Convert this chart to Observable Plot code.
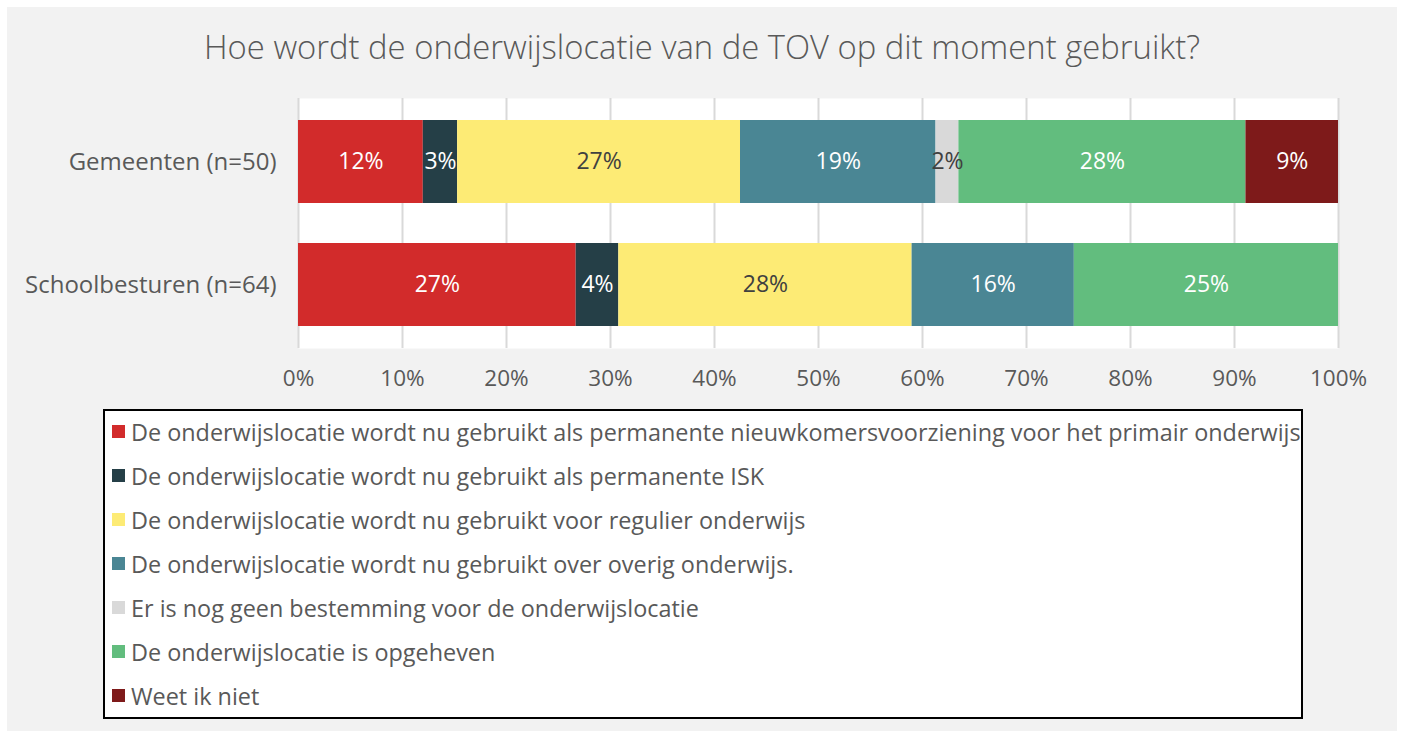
<!DOCTYPE html>
<html>
<head>
<meta charset="utf-8">
<script src="https://cdn.jsdelivr.net/npm/d3@7"></script>
<script src="https://cdn.jsdelivr.net/npm/@observablehq/plot@0.6"></script>
<style>
  html, body { margin: 0; padding: 0; background: #ffffff; }
  body { width: 1402px; height: 731px; position: relative; overflow: hidden; font-family: "Open Sans", Lato, sans-serif; }
  #panel { position: absolute; left: 7px; top: 7px; width: 1390px; height: 730px; background: #f2f2f2; }
  #title { position: absolute; left: 0; top: 21px; width: 1390px; text-align: center; font-size: 32.8px; font-weight: 300; color: #595959; line-height: 38px; }
  #chart { position: absolute; left: 0; top: 81px; }
  #legend { position: absolute; left: 96px; top: 402px; width: 1196px; height: 306px; border: 2px solid #000; background: #fff; }
  .item { position: absolute; left: 7px; height: 24px; display: flex; align-items: center; font-size: 23.4px; color: #595959; white-space: nowrap; }
  .sw { width: 13px; height: 13px; margin-right: 6px; flex: none; }
</style>
</head>
<body>
<div id="panel">
  <div id="title">Hoe wordt de onderwijslocatie van de TOV op dit moment gebruikt?</div>
  <div id="chart"></div>
  <div id="legend"></div>
</div>
<script>
const groups = ["Gemeenten (n=50)", "Schoolbesturen (n=64)"];
const categories = [
  "De onderwijslocatie wordt nu gebruikt als permanente nieuwkomersvoorziening voor het primair onderwijs",
  "De onderwijslocatie wordt nu gebruikt als permanente ISK",
  "De onderwijslocatie wordt nu gebruikt voor regulier onderwijs",
  "De onderwijslocatie wordt nu gebruikt over overig onderwijs.",
  "Er is nog geen bestemming voor de onderwijslocatie",
  "De onderwijslocatie is opgeheven",
  "Weet ik niet"
];
const colors = ["#d22b2b", "#253f47", "#fdeb75", "#4a8694", "#d9d9d9", "#62bd7e", "#7e1a1a"];
const labelColors = ["#ffffff", "#ffffff", "#404040", "#ffffff", "#404040", "#ffffff", "#ffffff"];
const gemeentenValues = [12.0, 3.3, 27.2, 18.8, 2.2, 27.6, 8.9];
const schoolbesturenValues = [26.7, 4.1, 28.2, 15.6, 0, 25.4, 0];
const xTicks = [0, 10, 20, 30, 40, 50, 60, 70, 80, 90, 100];

const seriesByGroup = [gemeentenValues, schoolbesturenValues];
const data = [];
groups.forEach((g, gi) => {
  categories.forEach((c, ci) => {
    const v = seriesByGroup[gi][ci];
    if (v > 0) data.push({group: g, category: c, value: v, ci, label: Math.round(v) + "%"});
  });
});

const font = "'Open Sans', Lato, sans-serif";
const chart = Plot.plot({
  width: 1390,
  height: 310,
  marginTop: 10,
  marginBottom: 50,
  marginLeft: 291,
  marginRight: 59,
  style: {background: "transparent", fontFamily: font, fontSize: "22px", color: "#595959"},
  x: {domain: [0, 100], ticks: xTicks, tickFormat: d => d + "%", label: null},
  y: {domain: groups, paddingInner: 0.323, paddingOuter: 0.17, label: null},
  color: {domain: categories, range: colors},
  marks: [
    Plot.frame({fill: "#ffffff", stroke: null}),
    Plot.ruleX(xTicks, {stroke: "#d9d9d9", strokeWidth: 2}),
    Plot.barX(data, Plot.stackX({x: "value", y: "group", fill: "category", order: "ci"})),
    Plot.text(data, Plot.stackX({x: "value", y: "group", text: "label", order: "ci",
      fill: d => labelColors[d.ci], fontSize: 23})),
    Plot.axisX({ticks: xTicks, tickFormat: d => d + "%", tickSize: 0, tickPadding: 22, fontSize: 22.5, fill: "#595959", label: null}),
    Plot.axisY({tickSize: 0, tickPadding: 22, fontSize: 24, fill: "#595959", label: null})
  ]
});
document.getElementById("chart").appendChild(chart);

const legend = document.getElementById("legend");
categories.forEach((c, i) => {
  const item = document.createElement("div");
  item.className = "item";
  item.style.top = (8.5 + i * 44) + "px";
  const sw = document.createElement("span");
  sw.className = "sw";
  sw.style.background = colors[i];
  const tx = document.createElement("span");
  tx.textContent = c;
  item.appendChild(sw);
  item.appendChild(tx);
  legend.appendChild(item);
});
</script>
</body>
</html>
